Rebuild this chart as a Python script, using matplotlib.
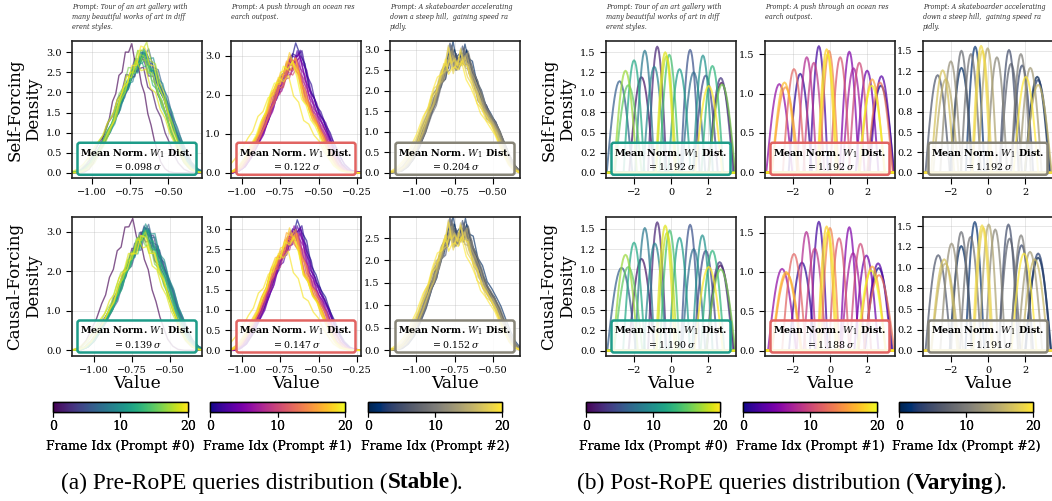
import numpy as np
import matplotlib
matplotlib.use("Agg")
import matplotlib.pyplot as plt
from matplotlib import colors as mcolors
from matplotlib.cm import ScalarMappable
from matplotlib.ticker import FuncFormatter, MultipleLocator

plt.rcParams['font.family'] = 'DejaVu Serif'
plt.rcParams['mathtext.fontset'] = 'dejavuserif'

FIG_W, FIG_H = 1052, 501
fig = plt.figure(figsize=(FIG_W / 100, FIG_H / 100), dpi=100)

# ---------------------------------------------------------------- data
CMAPS = ['viridis', 'plasma', 'cividis']
ROW_NAMES = ['Self-Forcing', 'Causal-Forcing']
PROMPTS = [
    "Prompt: Tour of an art gallery with\nmany beautiful works of art in diff\nerent styles.",
    "Prompt: A push through an ocean res\nearch outpost.",
    "Prompt: A skateboarder accelerating\ndown a steep hill,  gaining speed ra\npidly.",
]
FRAMES = np.arange(21)

# Pre-RoPE: typical density profile of each prompt (value, density)
PRE_X0 = [-1.15, -1.10, -1.06, -1.02, -0.98, -0.94, -0.90, -0.87, -0.84, -0.81, -0.78, -0.75, -0.72, -0.69,
          -0.66, -0.63, -0.60, -0.57, -0.54, -0.51, -0.48, -0.45, -0.42, -0.39, -0.35, -0.31, -0.26]
PRE_Y0 = [0.00, 0.02, 0.08, 0.22, 0.45, 0.72, 1.00, 1.25, 1.55, 1.85, 2.15, 2.40, 2.62, 2.80,
          2.78, 2.60, 2.35, 2.05, 1.72, 1.38, 1.05, 0.75, 0.48, 0.25, 0.09, 0.02, 0.00]
PRE_X1 = [-1.08, -1.04, -1.00, -0.96, -0.92, -0.88, -0.85, -0.82, -0.79, -0.76, -0.73, -0.70, -0.67,
          -0.64, -0.61, -0.58, -0.55, -0.52, -0.49, -0.46, -0.43, -0.40, -0.37, -0.33, -0.28, -0.22]
PRE_Y1 = [0.00, 0.04, 0.15, 0.38, 0.68, 1.00, 1.30, 1.62, 1.95, 2.20, 2.45, 2.70, 2.88,
          2.78, 2.40, 2.02, 1.68, 1.42, 1.18, 0.92, 0.65, 0.40, 0.20, 0.06, 0.01, 0.00]
PRE_X2 = [-1.18, -1.12, -1.08, -1.04, -1.00, -0.96, -0.92, -0.89, -0.86, -0.83, -0.80, -0.78, -0.76, -0.74,
          -0.72, -0.70, -0.68, -0.65, -0.62, -0.59, -0.56, -0.53, -0.50, -0.47, -0.44, -0.41, -0.38, -0.35, -0.31]
PRE_Y2 = [0.00, 0.04, 0.14, 0.33, 0.62, 1.00, 1.40, 1.72, 2.02, 2.30, 2.65, 2.82, 2.70, 2.55,
          2.62, 2.78, 2.72, 2.45, 2.10, 1.80, 1.55, 1.32, 1.18, 0.95, 0.68, 0.42, 0.20, 0.07, 0.00]

# Pre-RoPE per-frame peak height, shift and spread (frames 0..20), [prompt][row]
PRE_PEAK = [
    [[3.08, 2.70, 2.75, 2.85, 2.80, 2.90, 2.95, 2.85, 2.90, 2.80, 2.95, 2.85, 2.90, 2.75, 2.95, 2.80, 2.90, 2.85, 3.12, 2.65, 3.05],
     [3.20, 2.85, 2.90, 2.95, 3.00, 2.90, 3.05, 2.95, 3.00, 2.90, 3.05, 2.95, 2.90, 2.85, 2.80, 2.90, 2.75, 2.80, 2.85, 2.70, 2.80]],
    [[3.20, 3.10, 3.15, 3.00, 2.95, 3.05, 2.85, 2.90, 2.80, 2.75, 2.85, 2.70, 2.80, 2.75, 2.95, 2.85, 2.90, 2.80, 2.95, 2.45, 2.85],
     [3.10, 3.05, 3.00, 2.95, 3.00, 2.90, 2.95, 2.85, 2.90, 2.80, 2.85, 2.80, 2.75, 2.85, 2.90, 2.80, 2.95, 2.85, 2.90, 2.40, 2.80]],
    [[3.00, 3.05, 2.95, 2.90, 3.00, 2.85, 2.90, 2.95, 2.80, 2.85, 2.90, 2.95, 2.85, 2.80, 2.90, 2.85, 2.95, 2.80, 2.75, 2.90, 2.70],
     [2.80, 2.85, 2.75, 2.70, 2.80, 2.65, 2.70, 2.75, 2.60, 2.65, 2.70, 2.75, 2.65, 2.60, 2.70, 2.65, 2.75, 2.60, 2.55, 2.70, 2.50]],
]
PRE_SHIFT = [
    [[-0.07, -0.03, 0.00, 0.01, 0.02, 0.02, 0.03, 0.02, 0.01, 0.02, 0.03, 0.02, 0.01, 0.00, 0.01, 0.00, -0.01, 0.00, 0.02, -0.02, 0.01],
     [-0.08, 0.00, 0.01, 0.02, 0.02, 0.03, 0.02, 0.03, 0.02, 0.02, 0.03, 0.02, 0.01, 0.02, 0.01, 0.00, 0.00, -0.01, 0.00, -0.02, 0.00]],
    [[0.02, 0.03, 0.02, 0.03, 0.02, 0.01, 0.02, 0.01, 0.00, 0.01, 0.00, 0.00, -0.01, 0.00, -0.01, -0.02, -0.01, -0.02, -0.02, -0.06, -0.03],
     [0.03, 0.03, 0.02, 0.03, 0.02, 0.02, 0.01, 0.01, 0.00, 0.01, 0.00, -0.01, -0.01, 0.00, -0.01, -0.02, -0.01, -0.02, -0.02, -0.06, -0.02]],
    [[0.01, 0.02, 0.01, 0.02, 0.00, 0.01, 0.02, 0.01, 0.02, 0.00, 0.01, 0.02, 0.01, 0.00, 0.01, 0.00, -0.01, 0.00, -0.02, -0.01, -0.03],
     [0.01, 0.02, 0.02, 0.01, 0.00, 0.01, 0.02, 0.01, 0.01, 0.00, 0.01, 0.02, 0.00, 0.00, 0.01, -0.01, -0.01, 0.00, -0.02, -0.01, -0.03]],
]
PRE_SPREAD = [
    [[0.70, 0.95, 1.00, 1.02, 1.03, 1.05, 1.04, 1.03, 1.02, 1.05, 1.03, 1.00, 1.02, 0.98, 1.00, 1.00, 1.02, 0.97, 0.95, 1.05, 0.96],
     [0.85, 1.00, 1.02, 1.00, 1.03, 1.02, 1.00, 1.03, 1.02, 1.00, 1.02, 1.00, 0.98, 1.00, 1.02, 0.98, 1.00, 1.03, 0.98, 1.04, 1.00]],
    [[1.00, 1.02, 1.00, 1.03, 1.00, 1.02, 1.00, 0.98, 1.00, 1.02, 0.98, 1.00, 1.02, 0.98, 0.97, 1.00, 0.98, 1.00, 0.97, 1.10, 0.98],
     [1.02, 1.00, 1.03, 1.00, 1.02, 0.98, 1.00, 1.02, 0.98, 1.00, 1.03, 0.98, 1.00, 1.02, 0.97, 1.00, 0.98, 1.02, 0.97, 1.08, 1.00]],
    [[1.00, 0.98, 1.02, 1.00, 1.03, 0.98, 1.00, 1.02, 1.00, 0.97, 1.02, 1.00, 0.98, 1.03, 1.00, 0.98, 1.02, 1.00, 1.04, 0.98, 1.05],
     [1.00, 1.02, 0.98, 1.00, 1.03, 1.00, 0.98, 1.02, 1.00, 1.03, 0.98, 1.00, 1.02, 0.98, 1.00, 1.03, 1.00, 0.98, 1.04, 1.00, 1.05]],
]
# small frame-to-frame wiggles of the estimated densities
WIGGLE = [
    [0, 0, 0.02, -0.03, 0.05, -0.06, 0.08, -0.05, 0.10, -0.08, 0.06, -0.12, 0.10, -0.06, 0.12,
     -0.10, 0.08, -0.05, 0.09, -0.08, 0.06, -0.04, 0.05, -0.03, 0.02, 0, 0, 0, 0, 0],
    [0, 0.01, -0.02, 0.04, -0.05, 0.07, -0.06, 0.09, -0.10, 0.05, -0.08, 0.12, -0.09, 0.11, -0.07,
     0.10, -0.12, 0.06, -0.07, 0.08, -0.05, 0.06, -0.03, 0.02, 0, 0, 0, 0, 0, 0],
    [0, -0.01, 0.03, -0.02, 0.06, -0.04, 0.03, -0.09, 0.07, 0.12, -0.10, 0.05, -0.15, 0.08, 0.06,
     -0.12, 0.09, -0.07, 0.05, 0.07, -0.06, 0.04, -0.05, 0.03, -0.01, 0, 0, 0, 0, 0],
]

# Post-RoPE: per-frame bump centre and peak density (frames 0..20), [prompt][row]
POST_CENTER = [
    [[2.72, -1.59, -0.74, 2.68, 1.87, 1.03, -2.77, 1.22, -1.41, -0.90, 1.72, 0.46, -1.99, 2.23, -0.09, -2.30, 2.75, -2.45, -0.25, -0.31, 2.03],
     [2.66, -1.59, -0.74, 2.62, 1.87, 1.03, -2.66, 1.22, -1.41, -0.87, 1.69, 0.46, -1.99, 2.23, -0.07, -2.30, 2.68, -2.45, -0.22, -0.31, 2.03]],
    [[2.74, -1.60, -0.60, 2.77, 2.00, 1.04, -2.73, 1.27, -1.25, -0.87, 1.58, 0.55, -1.94, 2.69, -0.05, -2.40, 2.27, -2.45, -0.18, -0.12, 2.25],
     [2.62, -1.51, -0.60, 2.59, 1.96, 1.04, -2.58, 1.24, -1.27, -0.82, 1.64, 0.49, -1.94, 2.64, 0.00, -2.32, 2.27, -2.36, -0.18, -0.10, 2.22]],
    [[2.65, -1.43, -0.69, 2.69, 1.84, 1.13, -2.71, 1.24, -1.43, -0.92, 1.77, 0.48, -2.00, 2.28, -0.02, -2.27, 2.70, -2.44, -0.30, -0.37, 2.04],
     [2.70, -1.44, -0.71, 2.70, 1.81, 1.10, -2.68, 1.16, -1.44, -0.94, 1.78, 0.39, -1.96, 2.26, 0.04, -2.30, 2.52, -2.36, -0.25, -0.32, 1.94]],
]
POST_PEAK = [
    [[1.12, 1.19, 1.57, 1.18, 1.21, 1.53, 1.14, 1.25, 1.52, 1.32, 1.46, 1.29, 1.40, 1.33, 1.47, 1.09, 1.10, 1.27, 1.45, 1.50, 1.08],
     [1.05, 1.13, 1.58, 1.09, 1.23, 1.55, 1.02, 1.25, 1.51, 1.32, 1.42, 1.39, 1.33, 1.23, 1.48, 1.03, 1.00, 1.18, 1.45, 1.54, 1.03]],
    [[1.10, 1.25, 1.60, 1.22, 1.29, 1.53, 1.12, 1.32, 1.46, 1.39, 1.39, 1.46, 1.31, 1.14, 1.54, 1.08, 1.18, 1.14, 1.56, 1.50, 1.10],
     [1.05, 1.12, 1.64, 1.11, 1.21, 1.57, 1.04, 1.24, 1.51, 1.30, 1.36, 1.43, 1.23, 0.96, 1.56, 0.98, 1.07, 1.00, 1.58, 1.52, 1.02]],
    [[1.18, 1.29, 1.55, 1.14, 1.32, 1.51, 1.20, 1.34, 1.50, 1.46, 1.46, 1.42, 1.37, 1.29, 1.53, 1.15, 1.08, 1.26, 1.50, 1.56, 1.18],
     [1.12, 1.26, 1.55, 1.17, 1.27, 1.52, 1.15, 1.35, 1.43, 1.37, 1.39, 1.46, 1.29, 1.19, 1.52, 1.05, 1.10, 1.10, 1.48, 1.51, 1.17]],
]
# normalised bump profile (half-cosine arch), position in half-widths
BUMP_T = [-1.0, -0.9, -0.8, -0.7, -0.6, -0.5, -0.4, -0.3, -0.2, -0.1, 0.0,
          0.1, 0.2, 0.3, 0.4, 0.5, 0.6, 0.7, 0.8, 0.9, 1.0]
BUMP_Y = [0.000, 0.156, 0.309, 0.454, 0.588, 0.707, 0.809, 0.891, 0.951, 0.988, 1.000,
          0.988, 0.951, 0.891, 0.809, 0.707, 0.588, 0.454, 0.309, 0.156, 0.000]

W1_PRE = [[0.098, 0.122, 0.204], [0.139, 0.147, 0.152]]
W1_POST = [[1.192, 1.192, 1.192], [1.190, 1.188, 1.191]]

# axis ranges and tick steps
PRE_XLIM = [[(-1.13, -0.28), (-1.07, -0.226), (-1.174, -0.32)],
            [(-1.144, -0.289), (-1.07, -0.226), (-1.174, -0.32)]]
PRE_XTICKS = [[-1.0, -0.75, -0.5], [-1.0, -0.75, -0.5, -0.25], [-1.0, -0.75, -0.5]]
PRE_YLIM = [[(-0.13, 3.28), (-0.136, 3.38), (-0.13, 3.21)],
            [(-0.145, 3.37), (-0.14, 3.30), (-0.13, 2.97)]]
PRE_YSTEP = [[0.5, 1.0, 0.5], [1.0, 0.5, 0.5]]
POST_XLIM = (-3.5, 3.5)
POST_YLIM = [[(-0.066, 1.64), (-0.07, 1.665), (-0.066, 1.62)],
             [(-0.066, 1.645), (-0.07, 1.70), (-0.066, 1.61)]]
POST_YSTEP = [[0.25, 0.5, 0.25], [0.25, 0.5, 0.25]]
BOX_LEVEL = [0.55, 0.6, 0.55]

# ---------------------------------------------------------------- layout (pixels)
COL_LEFT = [[72, 231, 390], [606, 765, 923]]
AX_W = 130
ROW_TOP = [41, 217]
ROW_BOT = [178, 356]
CB_X = [[(53, 188), (210, 345), (368, 502)], [(586, 720), (743, 877), (899, 1033)]]
CB_Y = (402, 412)


def px_rect(x0, x1, y0, y1):
    return [x0 / FIG_W, 1 - y1 / FIG_H, (x1 - x0) / FIG_W, (y1 - y0) / FIG_H]


def minus_fmt(fmt):
    return FuncFormatter(lambda v, p: fmt.format(v).replace('-', '\u2212'))


def style_axes(ax):
    for s in ax.spines.values():
        s.set_linewidth(1.2)
        s.set_color('#222222')
    ax.tick_params(labelsize=7, length=4, width=0.8, pad=3.5)
    ax.grid(True, color='#b0b0b0', alpha=0.35, lw=0.6)
    ax.set_axisbelow(True)


def add_box(ax, value, prompt):
    edge = plt.get_cmap(CMAPS[prompt])(BOX_LEVEL[prompt])
    ax.text(0.5, 0.135, "Mean Norm. $W_1$ Dist.\n$= %.3f\\,\\sigma$" % value,
            transform=ax.transAxes, ha='center', va='center', fontsize=6.8,
            fontweight='bold', linespacing=1.15, zorder=30,
            bbox=dict(boxstyle='round,pad=0.3,rounding_size=0.25', fc=(1, 1, 1, 0.85),
                      ec=edge, lw=1.8))


def pre_curves(ax, prompt, row):
    xt = np.array([PRE_X0, PRE_X1, PRE_X2][prompt])
    yt = np.array([PRE_Y0, PRE_Y1, PRE_Y2][prompt])
    top = yt.max()
    ctr = xt[np.argmax(yt)]
    cmap = plt.get_cmap(CMAPS[prompt])
    lo, hi = PRE_XLIM[row][prompt]
    for f in FRAMES:
        s = PRE_SPREAD[prompt][row][f]
        x = ctr + (xt - ctr) * s + PRE_SHIFT[prompt][row][f]
        w = np.array(WIGGLE[f % 3][:len(yt)])
        y = yt * PRE_PEAK[prompt][row][f] / top + 1.3 * w * yt / top
        y = np.clip(y, 0, None)
        x = np.concatenate([[lo - 0.05], x, [hi + 0.05]])
        y = np.concatenate([[0.0], y, [0.0]])
        ax.plot(x, y, color=cmap(f / 20), lw=1.0, alpha=0.65)


def post_curves(ax, prompt, row):
    cmap = plt.get_cmap(CMAPS[prompt])
    t = np.array(BUMP_T)
    b = np.array(BUMP_Y)
    for f in FRAMES:
        h = POST_PEAK[prompt][row][f]
        c = POST_CENTER[prompt][row][f]
        half = np.pi / (4 * h)  # unit-area arch
        x = np.concatenate([[POST_XLIM[0] - 0.1], c + t * half, [POST_XLIM[1] + 0.1]])
        y = np.concatenate([[0.0], h * b, [0.0]])
        ax.plot(x, y, color=cmap(f / 20), lw=1.4, alpha=0.72)


for g in range(2):
    for row in range(2):
        for p in range(3):
            x0 = COL_LEFT[g][p]
            ax = fig.add_axes(px_rect(x0, x0 + AX_W, ROW_TOP[row], ROW_BOT[row]))
            style_axes(ax)
            if g == 0:
                pre_curves(ax, p, row)
                ax.set_xlim(*PRE_XLIM[row][p])
                ax.set_ylim(*PRE_YLIM[row][p])
                ax.set_xticks(PRE_XTICKS[p])
                ax.xaxis.set_major_formatter(minus_fmt('{:.2f}'))
                ax.yaxis.set_major_locator(MultipleLocator(PRE_YSTEP[row][p]))
                add_box(ax, W1_PRE[row][p], p)
            else:
                post_curves(ax, p, row)
                ax.set_xlim(*POST_XLIM)
                ax.set_ylim(*POST_YLIM[row][p])
                ax.set_xticks([-2, 0, 2])
                ax.xaxis.set_major_formatter(minus_fmt('{:.0f}'))
                ax.yaxis.set_major_locator(MultipleLocator(POST_YSTEP[row][p]))
                add_box(ax, W1_POST[row][p], p)
            ax.yaxis.set_major_formatter(FuncFormatter(lambda v, pos: f'{v:.1f}'))
            if row == 0:
                ax.text(0.0, 1 + 38 / 137, PROMPTS[p], transform=ax.transAxes,
                        ha='left', va='top', fontsize=4.7, style='italic',
                        color='#333333', linespacing=1.3)
            else:
                ax.set_xlabel('Value', fontsize=12.3, labelpad=0)
            if p == 0:
                ax.set_ylabel(ROW_NAMES[row] + '\nDensity', fontsize=12, labelpad=3,
                              linespacing=1.1)

        for p in range(3):
            xa, xb = CB_X[g][p]
            cax = fig.add_axes(px_rect(xa, xb, CB_Y[0], CB_Y[1]))
            sm = ScalarMappable(norm=mcolors.Normalize(0, 20), cmap=CMAPS[p])
            cb = fig.colorbar(sm, cax=cax, orientation='horizontal', ticks=[0, 10, 20])
            cb.outline.set_linewidth(1.0)
            cax.tick_params(labelsize=9, length=3.5, width=0.8, pad=2)
            cb.set_label(f'Frame Idx (Prompt #{p})', fontsize=9, labelpad=5)

# captions with a bold keyword
CAPTIONS = [
    (262, [("(a) Pre-RoPE queries distribution (", 'normal'), ("Stable", 'bold'), (").", 'normal')]),
    (792, [("(b) Post-RoPE queries distribution (", 'normal'), ("Varying", 'bold'), (").", 'normal')]),
]
CAP_Y = 483
pieces = []
for xc, parts in CAPTIONS:
    texts = [fig.text(0, 1 - CAP_Y / FIG_H, s, family='Liberation Serif', fontsize=16.8,
                      fontweight=w, ha='left', va='center') for s, w in parts]
    pieces.append((xc, texts))
fig.canvas.draw()
renderer = fig.canvas.get_renderer()
for xc, texts in pieces:
    widths = [t.get_window_extent(renderer).width for t in texts]
    x = xc - sum(widths) / 2
    for t, wd in zip(texts, widths):
        t.set_x(x / FIG_W)
        x += wd

fig.savefig('out.png', dpi=100)
